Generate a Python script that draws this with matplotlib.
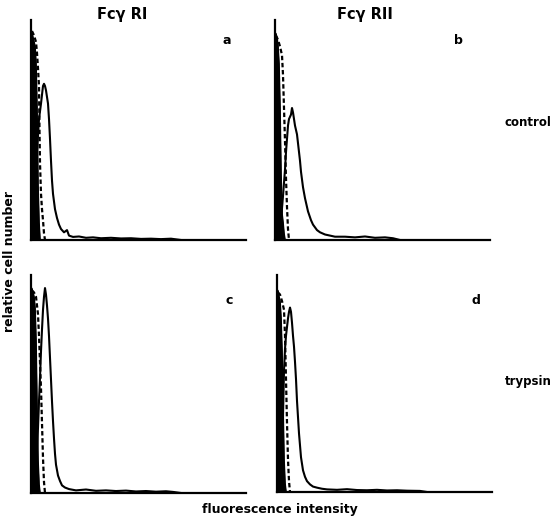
import matplotlib
matplotlib.use("Agg")
import matplotlib.pyplot as plt

# histogram traces per panel, x = channel, y = % of full scale
# black = unstained, dashed = isotype control, solid = specific antibody
a_black_x = [0, 0.5, 1, 2, 3, 4, 5, 6, 7, 8, 9]
a_black_y = [0, 93, 94, 92, 90, 88, 80, 60, 25, 8, 0]
a_dash_x = [1, 3, 5, 6, 7, 8, 8.5, 9, 10, 11, 12, 13, 14]
a_dash_y = [95, 93, 90, 85, 78, 70, 50, 35, 21, 14, 9, 3, 0]
a_solid_x = [3, 4, 5, 6, 8, 10, 12, 13, 14, 15, 16, 17, 18, 19, 20, 21, 22, 24, 26, 28, 30,
             33, 36, 38, 42, 48, 55, 62, 70, 80, 90, 100, 110, 120, 130, 140, 150]
a_solid_y = [0, 5, 20, 40, 55, 62, 70, 71, 70, 68, 65, 62, 55, 46, 36, 27, 21, 14, 10, 7, 5,
             3.5, 4.5, 2, 1.4, 1.6, 1, 1.2, 0.8, 1, 0.7, 0.8, 0.5, 0.6, 0.4, 0.6, 0]

b_black_x = [0, 0.5, 1, 2, 3, 4, 5, 6, 7, 8, 9, 10]
b_black_y = [0, 94, 93, 92, 88, 80, 60, 30, 12, 8, 3, 0]
b_dash_x = [1, 3, 5, 7, 8, 9, 10, 11, 12, 13, 14]
b_dash_y = [93, 91, 88, 84, 75, 60, 45, 28, 15, 5, 0]
b_solid_x = [5, 6, 8, 10, 11, 12, 13, 14, 15, 16, 17, 18, 19, 20, 22, 24, 25, 26, 28, 30, 33,
             36, 38, 42, 45, 50, 55, 60, 70, 80, 90, 100, 110, 118, 125]
b_solid_y = [0, 9, 20, 32, 40, 46, 52, 55, 56, 57, 60, 58, 55, 52, 48, 40, 36, 31, 24, 19, 13,
             9, 7, 4.5, 3.5, 2.5, 2, 1.5, 1.5, 1.2, 1.6, 1, 1.2, 0.8, 0]

c_black_x = [0, 0.5, 1, 2, 3, 4, 5, 6, 7, 8, 9]
c_black_y = [0, 94, 93, 92, 90, 85, 70, 40, 15, 4, 0]
c_dash_x = [1, 3, 5, 7, 8, 9, 10, 11, 12, 13, 14]
c_dash_y = [93, 92, 90, 82, 72, 60, 48, 32, 16, 5, 0]
c_solid_x = [3, 4, 5, 6, 7, 8, 9, 10, 11, 12, 13, 14, 15, 16, 17, 18, 19, 20, 21, 22, 23, 24,
             25, 27, 29, 31, 34, 38, 45, 55, 65, 75, 85, 95, 105, 115, 125, 135, 142, 150]
c_solid_y = [0, 3, 10, 20, 30, 42, 53, 65, 75, 84, 90, 94, 91, 86, 80, 72, 62, 52, 42, 33, 25, 18,
             13, 8, 5.5, 3.5, 2.5, 1.8, 1.2, 1.6, 1, 1.2, 0.9, 1.1, 0.7, 0.9, 0.6, 0.8, 0.5, 0]

d_black_x = [0, 0.5, 1, 2, 3, 4, 5, 6, 7, 8, 9]
d_black_y = [0, 93, 92, 90, 88, 80, 65, 40, 15, 4, 0]
d_dash_x = [1, 3, 5, 7, 8, 9, 10, 11, 12, 13]
d_dash_y = [92, 91, 88, 84, 72, 52, 32, 15, 5, 0]
d_solid_x = [3, 4, 5, 6, 7, 8, 9, 10, 11, 12, 13, 14, 15, 16, 17, 18, 19, 20, 22, 24, 26, 28,
             30, 33, 36, 40, 45, 50, 60, 70, 80, 90, 100, 110, 120, 130, 143, 150]
d_solid_y = [0, 4, 15, 35, 56, 66, 72, 76, 80, 83, 85, 83, 78, 72, 67, 60, 52, 42, 27, 16, 10, 7,
             5, 3.5, 2.5, 2, 1.5, 1.2, 1.0, 1.3, 0.9, 0.8, 1.0, 0.7, 0.8, 0.6, 0.5, 0]

panel_letters = ["a", "b", "c", "d"]
col_titles = ["Fcγ RI", "Fcγ RII"]
row_labels = ["control", "trypsin"]

# axes boxes in pixels: left, top, width, height
boxes = [(31, 20, 215, 220), (275, 20, 215, 220), (31, 275, 215, 218), (277, 275, 215, 217)]
traces = [
    (a_black_x, a_black_y, a_dash_x, a_dash_y, a_solid_x, a_solid_y),
    (b_black_x, b_black_y, b_dash_x, b_dash_y, b_solid_x, b_solid_y),
    (c_black_x, c_black_y, c_dash_x, c_dash_y, c_solid_x, c_solid_y),
    (d_black_x, d_black_y, d_dash_x, d_dash_y, d_solid_x, d_solid_y),
]

W, H = 557, 521
fig = plt.figure(figsize=(W / 100, H / 100), dpi=100)
fig.patch.set_facecolor("white")


def fx(px):
    return px / W


def fy(py):
    return 1 - py / H


for (left, top, w, h), (bx, by, dx, dy, sx, sy) in zip(boxes, traces):
    ax = fig.add_axes([fx(left), fy(top + h), w / W, h / H])
    ax.fill_between(bx, by, 0, color="black", lw=0)
    ax.plot(bx, by, color="black", lw=1.2)
    ax.plot(dx, dy, color="black", lw=1.6, ls=(0, (2, 1.2)))
    ax.plot(sx, sy, color="black", lw=1.5)
    ax.set_xlim(0, w)
    ax.set_ylim(0, 100)
    for s in ("top", "right"):
        ax.spines[s].set_visible(False)
    for s in ("left", "bottom"):
        ax.spines[s].set_linewidth(1.6)
    ax.set_xticks([])
    ax.set_yticks([])

letter_pos = [(227, 40), (458, 40), (229, 300), (476, 300)]
for k, (px, py) in zip(panel_letters, letter_pos):
    fig.text(fx(px), fy(py), k, fontsize=9, fontweight="bold", ha="center", va="center")

fig.text(fx(122), fy(15), col_titles[0], fontsize=10.5, fontweight="bold", ha="center", va="center")
fig.text(fx(365), fy(15), col_titles[1], fontsize=10.5, fontweight="bold", ha="center", va="center")
fig.text(fx(528), fy(123), row_labels[0], fontsize=8.5, fontweight="bold", ha="center", va="center")
fig.text(fx(528), fy(382), row_labels[1], fontsize=8.5, fontweight="bold", ha="center", va="center")
fig.text(fx(10), fy(262), "relative cell number", fontsize=9, fontweight="bold",
         rotation=90, ha="center", va="center")
fig.text(fx(280), fy(510), "fluorescence intensity", fontsize=9, fontweight="bold",
         ha="center", va="center")

fig.savefig("out.png", dpi=100, facecolor="white")
